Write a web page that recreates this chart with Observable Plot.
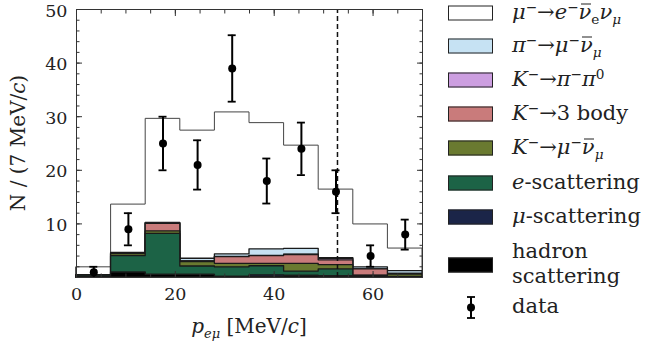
<!DOCTYPE html>
<html><head><meta charset="utf-8">
<script src="https://cdn.jsdelivr.net/npm/d3@7"></script>
<script src="https://cdn.jsdelivr.net/npm/@observablehq/plot@0.6"></script>
<style>
body{margin:0;background:#fff;}
#wrap{position:relative;width:645px;height:349px;font-family:"DejaVu Serif",serif;color:#222;overflow:hidden;}
.leg{position:absolute;left:512px;font-size:21px;line-height:1;white-space:nowrap;transform:translateY(-50%);}
.sw{position:absolute;left:448px;width:43px;height:13px;border:1px solid #222;transform:translateY(-50%);}
sup,sub{font-size:65%;line-height:0;position:relative;vertical-align:baseline;}
sup{top:-0.5em} sub{top:0.35em}
.ob{position:relative;}
.ob::before{content:"";position:absolute;left:0.12em;right:0.02em;top:0.2em;border-top:1.2px solid currentColor;}
.lbl{position:absolute;font-size:20px;white-space:nowrap;}
</style></head>
<body><div id="wrap"></div>
<script>
// bin edges (MeV/c), 7 MeV/c bins
const binEdges = [0, 7, 14, 21, 28, 35, 42, 49, 56, 63, 70];
// per-bin contributions (stacked bottom -> top)
const hadronScat = [0.1, 0.9, 0.5, 0.5, 0.1, 0.1, 0.3, 0.2, 0.2, 0.05];
const muScat     = [0, 0, 0, 0, 0, 0.3, 0, 0, 0, 0];
const eScat      = [0.27, 3.1, 7.65, 1.55, 1.8, 1.7, 0.8, 1.3, 0.1, 0.05];
const kMuNu      = [0, 0.35, 0.45, 0.8, 0.65, 0.45, 1.45, 0.8, 0.05, 0.45];
const k3Body     = [0, 0.15, 1.4, 0.15, 1.25, 1.45, 1.65, 0.9, 1.15, 0.1];
const kPiPi      = [0, 0, 0.1, 0, 0.05, 0.05, 0.05, 0.3, 0, 0];
const piMuNu     = [0, 0.1, 0.1, 0.5, 0.45, 1.2, 1.1, 0.1, 0.4, 0.55];
const muDecay    = [1.53, 9.0, 19.4, 23.9, 26.5, 23.55, 19.25, 12.8, 8.0, 4.2];
// data points
const dataX   = [3.5, 10.5, 17.5, 24.5, 31.5, 38.5, 45.5, 52.5, 59.5, 66.5];
const dataN   = [1, 9, 25, 21, 39, 18, 24, 16, 4, 8];
const dataErr = [1, 3, 5, 4.6, 6.2, 4.2, 4.9, 4, 2, 2.8];
const cutValue = 52.8;
const xMajorTicks = [0, 20, 40, 60];
const yLabelTicks = [10, 20, 30, 40, 50];

const layers = [
  {name: "hadron", vals: hadronScat, fill: "#000000"},
  {name: "mu-scat", vals: muScat, fill: "#1b2548"},
  {name: "e-scat", vals: eScat, fill: "#1c6346"},
  {name: "kmunu", vals: kMuNu, fill: "#6a7a30"},
  {name: "k3", vals: k3Body, fill: "#c97b7b"},
  {name: "kpipi", vals: kPiPi, fill: "#cc9ee0"},
  {name: "pimunu", vals: piMuNu, fill: "#c6e2f3"},
  {name: "mudecay", vals: muDecay, fill: "#ffffff"}
];
// cumulative tops
let run = new Array(10).fill(0);
layers.forEach(l => { run = run.map((v, i) => v + l.vals[i]); l.cum = run.slice(); });

const stepRows = cum => binEdges.map((e, i) => ({x: e, y: cum[Math.min(i, cum.length - 1)]}));

const areaMarks = [];
for (let k = layers.length - 1; k >= 0; k--) {
  const l = layers[k];
  const rows = stepRows(l.cum);
  const top = k === layers.length - 1;
  areaMarks.push(Plot.areaY(rows, {x: "x", y1: 0, y2: "y", curve: "step-after", fill: l.fill,
    stroke: top ? "#444" : "#1a1a1a", strokeWidth: top ? 1 : 1.3}));
}

const pts = dataX.map((x, i) => ({x, n: dataN[i], lo: Math.max(0, dataN[i] - dataErr[i]), hi: dataN[i] + dataErr[i]}));

const chart = Plot.plot({
  width: 645, height: 349,
  marginLeft: 76, marginRight: 223, marginTop: 9, marginBottom: 72,
  style: {fontFamily: "DejaVu Serif", fontSize: "17.5px", color: "#222", background: "transparent"},
  x: {domain: [0, 70]},
  y: {domain: [0, 50]},
  marks: [
    ...areaMarks,
    Plot.ruleX([cutValue], {y1: 0, y2: 50, stroke: "#111", strokeWidth: 1.5, strokeDasharray: "5,3"}),
    Plot.ruleX(pts, {x: "x", y1: "lo", y2: "hi", stroke: "#000", strokeWidth: 2}),
    Plot.ruleY(pts, {x1: "x", x2: "x", y: "hi", insetLeft: -4, insetRight: -4, stroke: "#000", strokeWidth: 1.8}),
    Plot.ruleY(pts.filter(d => d.lo > 0), {x1: "x", x2: "x", y: "lo", insetLeft: -4, insetRight: -4, stroke: "#000", strokeWidth: 1.8}),
    Plot.dot(pts, {x: "x", y: "n", r: 4, fill: "#000", stroke: "none"}),
    Plot.frame({stroke: "#333", strokeWidth: 1}),
    // major / minor inward ticks on all four sides
    Plot.axisX(d3.range(0, 71, 20), {anchor: "bottom", tickSize: -6, tickFormat: () => "", label: null, stroke: "#333"}),
    Plot.axisX(d3.range(0, 71, 5), {anchor: "bottom", tickSize: -3.5, tickFormat: () => "", label: null, stroke: "#333"}),
    Plot.axisX(d3.range(0, 71, 20), {anchor: "top", tickSize: -6, tickFormat: () => "", label: null, stroke: "#333"}),
    Plot.axisX(d3.range(0, 71, 5), {anchor: "top", tickSize: -3.5, tickFormat: () => "", label: null, stroke: "#333"}),
    Plot.axisY(d3.range(0, 51, 10), {anchor: "left", tickSize: -6, tickFormat: () => "", label: null, stroke: "#333"}),
    Plot.axisY(d3.range(0, 51, 2), {anchor: "left", tickSize: -3.5, tickFormat: () => "", label: null, stroke: "#333"}),
    Plot.axisY(d3.range(0, 51, 10), {anchor: "right", tickSize: -6, tickFormat: () => "", label: null, stroke: "#333"}),
    Plot.axisY(d3.range(0, 51, 2), {anchor: "right", tickSize: -3.5, tickFormat: () => "", label: null, stroke: "#333"}),
    // labels
    Plot.axisX(xMajorTicks, {anchor: "bottom", tickSize: 0, tickPadding: 10, label: null, fill: "#222"}),
    Plot.axisY(yLabelTicks, {anchor: "left", tickSize: 0, tickPadding: 9, dy: 1.5, label: null, fill: "#222"})
  ]
});

const wrap = document.getElementById("wrap");
chart.style.position = "absolute"; chart.style.left = "0"; chart.style.top = "0";
wrap.appendChild(chart);

const legendItems = [
  {fill: "#ffffff", y: 13, html: '<i>μ</i><sup>−</sup>→<i>e</i><sup>−</sup><i class="ob">ν</i><sub>e</sub><i>ν</i><sub><i>μ</i></sub>'},
  {fill: "#c6e2f3", y: 46, html: '<i>π</i><sup>−</sup>→<i>μ</i><sup>−</sup><i class="ob">ν</i><sub><i>μ</i></sub>'},
  {fill: "#cc9ee0", y: 80, html: '<i>K</i><sup>−</sup>→<i>π</i><sup>−</sup><i>π</i><sup>0</sup>'},
  {fill: "#c97b7b", y: 114, html: '<i>K</i><sup>−</sup>→3 body'},
  {fill: "#6a7a30", y: 148, html: '<i>K</i><sup>−</sup>→<i>μ</i><sup>−</sup><i class="ob">ν</i><sub><i>μ</i></sub>'},
  {fill: "#1c6346", y: 183, html: '<i>e</i>-scattering'},
  {fill: "#1b2548", y: 217, html: '<i>μ</i>-scattering'},
  {fill: "#000000", y: 265, html: '<span style="display:block;line-height:25px">hadron<br>scattering</span>'}
];
legendItems.forEach(it => {
  const sw = document.createElement("div");
  sw.className = "sw"; sw.style.top = it.y + "px"; sw.style.background = it.fill;
  wrap.appendChild(sw);
  const t = document.createElement("div");
  t.className = "leg"; t.style.top = (it.y - 1) + "px"; t.innerHTML = it.html;
  wrap.appendChild(t);
});
// data legend entry
const dl = document.createElement("div");
dl.innerHTML = '<svg width="20" height="30" style="position:absolute;left:461px;top:292px"><line x1="10" y1="5" x2="10" y2="26" stroke="#000" stroke-width="2"/><line x1="6" y1="5" x2="14" y2="5" stroke="#000" stroke-width="1.8"/><line x1="6" y1="26" x2="14" y2="26" stroke="#000" stroke-width="1.8"/><circle cx="10" cy="15.5" r="4" fill="#000"/></svg><div class="leg" style="top:306px">data</div>';
wrap.appendChild(dl);

// axis titles
const yl = document.createElement("div");
yl.className = "lbl";
yl.style.left = "18px"; yl.style.top = "143px";
yl.style.transform = "translate(-50%,-50%) rotate(-90deg)";
yl.innerHTML = 'N / (7 MeV/<i>c</i>)';
wrap.appendChild(yl);
const xl = document.createElement("div");
xl.className = "lbl";
xl.style.left = "249px"; xl.style.top = "326px";
xl.style.transform = "translate(-50%,-50%)";
xl.innerHTML = '<i>p</i><sub><i>eμ</i></sub> [MeV/<i>c</i>]';
wrap.appendChild(xl);
</script>
</body></html>
